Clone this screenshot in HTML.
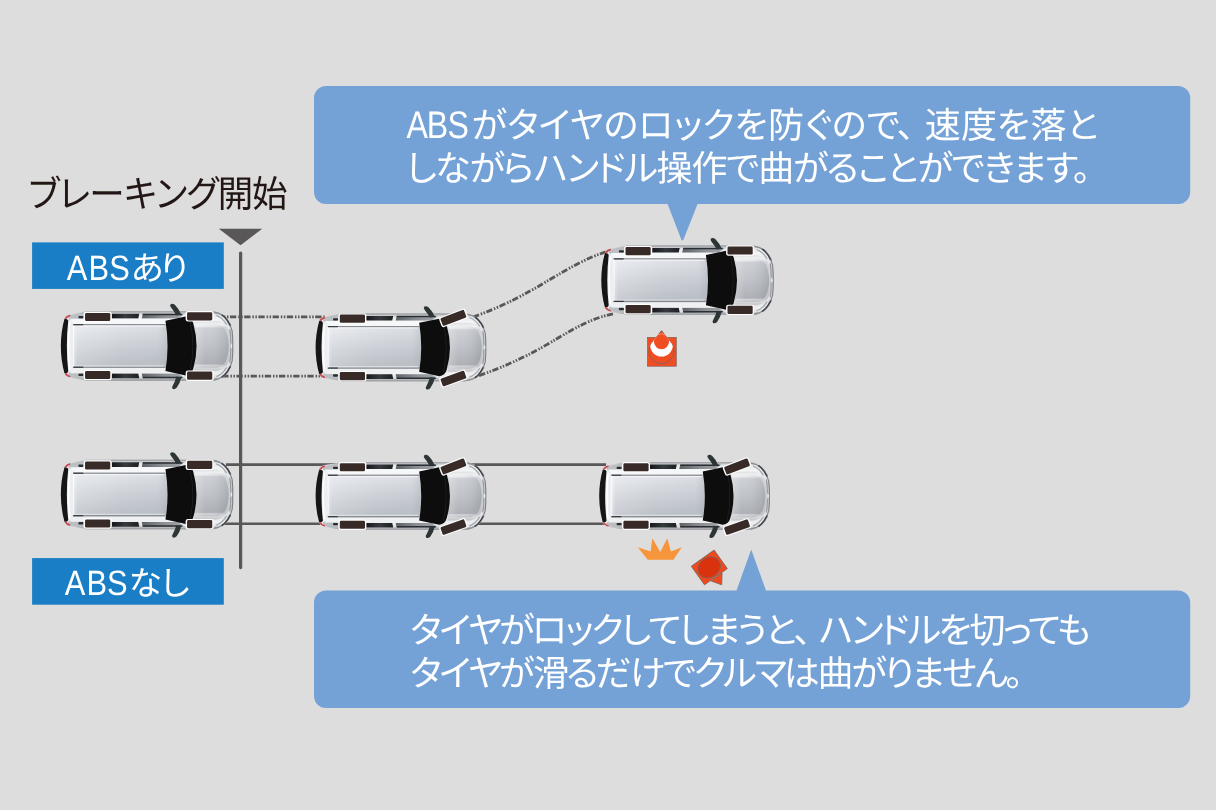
<!DOCTYPE html>
<html lang="ja">
<head>
<meta charset="utf-8">
<title>ABS</title>
<style>
html,body{margin:0;padding:0;background:#dddddd;}
body{width:1216px;height:810px;overflow:hidden;position:relative;font-family:"Liberation Sans","Noto Sans CJK JP",sans-serif;}
svg{position:absolute;left:0;top:0;display:block}
svg text{font-family:"Liberation Sans","Noto Sans CJK JP",sans-serif;font-weight:400;font-kerning:none;text-rendering:geometricPrecision;}
</style>
</head>
<body>
<svg width="1216" height="810" viewBox="0 0 1216 810">
<defs>
<linearGradient id="gBody" x1="0" y1="0" x2="0" y2="1">
<stop offset="0" stop-color="#9b9ea2"/><stop offset="0.025" stop-color="#c3c5c8"/><stop offset="0.05" stop-color="#e6e7e9"/><stop offset="0.12" stop-color="#f3f4f5"/><stop offset="0.2" stop-color="#e4e6e9"/><stop offset="0.5" stop-color="#d2d5da"/><stop offset="0.8" stop-color="#dfe1e4"/><stop offset="0.9" stop-color="#eeeff0"/><stop offset="0.95" stop-color="#dcdee0"/><stop offset="0.975" stop-color="#b4b6b9"/><stop offset="1" stop-color="#84878b"/>
</linearGradient>
<linearGradient id="gRoof" x1="0" y1="0" x2="0.3" y2="1">
<stop offset="0" stop-color="#e9ecf0"/><stop offset="0.2" stop-color="#dfe2e7"/><stop offset="0.6" stop-color="#cdd1d7"/><stop offset="1" stop-color="#bcc0c7"/>
</linearGradient>
<linearGradient id="gRoofH" x1="0" y1="0" x2="1" y2="0">
<stop offset="0" stop-color="#fff" stop-opacity="0.5"/><stop offset="0.05" stop-color="#fff" stop-opacity="0.12"/><stop offset="0.5" stop-color="#fff" stop-opacity="0"/><stop offset="0.9" stop-color="#9a9ea6" stop-opacity="0"/><stop offset="1" stop-color="#9a9ea6" stop-opacity="0.25"/>
</linearGradient>
<linearGradient id="gHood" x1="0" y1="0" x2="0" y2="1">
<stop offset="0" stop-color="#eeeff1"/><stop offset="0.05" stop-color="#e6e8ea"/><stop offset="0.09" stop-color="#cbced3"/><stop offset="0.5" stop-color="#bcbfc5"/><stop offset="0.91" stop-color="#a9acb2"/><stop offset="0.94" stop-color="#cfd1d5"/><stop offset="1" stop-color="#bdbfc3"/>
</linearGradient>
<linearGradient id="gHoodL" x1="0" y1="0" x2="1" y2="0">
<stop offset="0" stop-color="#fff" stop-opacity="0.28"/><stop offset="0.3" stop-color="#fff" stop-opacity="0.05"/><stop offset="1" stop-color="#6d7076" stop-opacity="0.25"/>
</linearGradient>
<linearGradient id="gHoodX" x1="0" y1="0" x2="0" y2="1">
<stop offset="0" stop-color="#dfe1e3"/><stop offset="0.07" stop-color="#f0f1f2"/><stop offset="0.13" stop-color="#d2d4d7"/><stop offset="0.87" stop-color="#c0c2c6"/><stop offset="0.93" stop-color="#d8dadc"/><stop offset="1" stop-color="#c3c5c8"/>
</linearGradient>
<linearGradient id="gWin" x1="0" y1="0" x2="1" y2="0">
<stop offset="0" stop-color="#15181a"/><stop offset="0.5" stop-color="#353a3d"/><stop offset="1" stop-color="#1d2123"/>
</linearGradient>
<linearGradient id="gWin2" x1="0" y1="0" x2="1" y2="0">
<stop offset="0" stop-color="#5d6266"/><stop offset="0.5" stop-color="#8a8e93"/><stop offset="1" stop-color="#a4a7ab"/>
</linearGradient>
<filter id="soft" x="-10%" y="-20%" width="120%" height="140%"><feGaussianBlur stdDeviation="0.45"/></filter>
<filter id="softT" x="0" y="0" width="1216" height="810" filterUnits="userSpaceOnUse"><feGaussianBlur stdDeviation="0.35"/></filter>
<filter id="soft2" x="-10%" y="-10%" width="120%" height="120%"><feGaussianBlur stdDeviation="0.3"/></filter>

<g id="car">
  <!-- body -->
  <path d="M-0.3,0 C-0.3,-12 0.8,-21 3,-27.3 L4.4,-29.6 Q6.6,-31.6 10,-32 L23,-34 L24.5,-34.7 L151,-34.8 C157,-34.4 161.5,-31.8 164.2,-29.2 C167.2,-26 170,-20.6 171.4,-15.3 L171.8,-8 L171.8,8 L171.4,15.3 C170,20.6 167.2,26 164.2,29.2 C161.5,31.8 157,34.4 151,34.8 L24.5,34.7 L23,34 L10,32 Q6.6,31.6 4.4,29.6 L3,27.3 C0.8,21 -0.3,12 -0.3,0Z" fill="url(#gBody)"/>
  <!-- rear corner gray -->
  <path d="M6,-30.6 L23,-33.4 L23,-25.4 L8,-25.4Z" fill="#b4b7bb" opacity="0.85"/>
  <path d="M6,30.6 L23,33.4 L23,25.4 L8,25.4Z" fill="#b4b7bb" opacity="0.85"/>
  <!-- sill line -->
  <path d="M50,-34.2 H152 M50,34.2 H152" stroke="#a3a6aa" stroke-width="1" fill="none"/>
  <!-- side window strips -->
  <path d="M50.5,-32.3 L78,-32.3 L77,-27.6 L50.5,-27.6Z M50.5,32.3 L78,32.3 L77,27.6 L50.5,27.6Z" fill="url(#gWin)"/>
  <path d="M81.5,-32.3 L123,-32.3 L117,-27.6 L80.5,-27.6Z M81.5,32.3 L123,32.3 L117,27.6 L80.5,27.6Z" fill="url(#gWin2)"/>
  <path d="M81.5,-31.6 L121,-31.6 M81.5,31.6 L121,31.6" stroke="#2a2e31" stroke-width="1.5" fill="none"/>
  <!-- small dark patches behind rear wheels -->
  <rect x="17.2" y="-30" width="5" height="2.4" rx="0.8" fill="#2a2d30"/>
  <rect x="17.2" y="27.6" width="5" height="2.4" rx="0.8" fill="#2a2d30"/>
  <!-- mirrors -->
  <path d="M109.2,-41.6 Q111,-43.2 113.6,-41.2 Q117.8,-37 120,-31.4 L115,-30.6 Q113,-34.6 110,-38.2 Q108.2,-40.2 109.2,-41.6Z" fill="#2d3436"/>
  <path d="M111.2,42.6 Q113,44 115.4,41.8 Q118.8,37.2 120,31.4 L115,30.6 Q114.2,35 111.8,39 Q110.2,41.2 111.2,42.6Z" fill="#2d3436"/>
  <!-- white shoulder strips -->
  <path d="M9,-27.2 L119,-27.2 L105,-22 L11,-22Z" fill="#f6f7f8"/>
  <path d="M9,27.2 L119,27.2 L105,22 L11,22Z" fill="#eff0f2"/>
  <!-- rear band -->
  <path d="M6.4,-26.4 Q9.6,-27.2 11.8,-24 L11.8,24 Q9.6,27.2 6.4,26.4 Q4.4,13 4.4,0 Q4.4,-13 6.4,-26.4Z" fill="#eceef1"/>
  <path d="M8.6,-24 Q7.4,-12 7.4,0 Q7.4,12 8.6,24" stroke="#ffffff" stroke-width="1.4" fill="none"/>
  <!-- roof -->
  <path d="M11.6,-22 L104.4,-22 Q106.3,-11 106.3,0 Q106.3,11 104.4,22 L11.6,22Z" fill="url(#gRoof)"/>
  <path d="M11.6,-22 L104.4,-22 Q106.3,-11 106.3,0 Q106.3,11 104.4,22 L11.6,22Z" fill="url(#gRoofH)"/>
  <path d="M12,-21.3 L104,-21.3" stroke="#777b80" stroke-width="1" fill="none"/><path d="M13,-19.9 L103,-19.9" stroke="#f4f5f7" stroke-width="1.2" fill="none" opacity="0.8"/>
  <path d="M12,-21.3 L22,-21.3" stroke="#34383b" stroke-width="1.2" fill="none"/>
  <path d="M12,21.2 L104,21.2" stroke="#7d8186" stroke-width="1" fill="none"/><path d="M13,19.8 L103,19.8" stroke="#e4e6e9" stroke-width="1.2" fill="none" opacity="0.8"/>
  <path d="M12,21.2 L22,21.2" stroke="#34383b" stroke-width="1.2" fill="none"/>
  <path d="M12.2,-20.5 L12.2,20.5" stroke="#fff" stroke-width="1.2" fill="none" opacity="0.75"/>
  <!-- rear window crescent -->
  <path d="M3.2,-27.2 Q-0.4,-14 -0.4,0 Q-0.4,14 3.2,27.2 Q6.2,27.6 7,25.4 Q5.6,13 5.6,0 Q5.6,-13 7,-25.4 Q6.2,-27.6 3.2,-27.2Z" fill="#121415"/>
  <!-- tail lights -->
  <path d="M3.2,-27.8 Q4.6,-30.4 8.8,-31.6 L9.2,-30 Q6.2,-29.2 5,-26.8Z" fill="#c9494f"/>
  <path d="M3.2,27.8 Q4.6,30.4 8.8,31.6 L9.2,30 Q6.2,29.2 5,26.8Z" fill="#c9494f"/>
  <!-- fender highlight -->
  <path d="M133,-25 L156,-25 Q164,-23 167.6,-15 L168.6,0 L167.6,15 Q164,23 156,25 L133,25Z" fill="url(#gHoodX)"/>
  <!-- hood -->
  <path d="M134,-21.8 L155.5,-21.8 Q161,-20.8 164.4,-15.4 Q167.2,-9 167.4,0 Q167.2,9 164.4,15.4 Q161,20.8 155.5,21.8 L134,21.8Z" fill="url(#gHood)"/>
  <path d="M134,-21.8 L155.5,-21.8 Q161,-20.8 164.4,-15.4 Q167.2,-9 167.4,0 Q167.2,9 164.4,15.4 Q161,20.8 155.5,21.8 L134,21.8Z" fill="url(#gHoodL)"/>
  <!-- front trim -->
  <path d="M167.4,-17 Q168.8,-9 168.8,0 Q168.8,9 167.4,17 L170.8,14 L171.6,7 L171.6,-7 L170.8,-14Z" fill="#c9cbce"/>
  <path d="M153,-33.8 C157,-33 159.4,-32 161,-30.8" stroke="#8a8d91" stroke-width="1.4" fill="none"/><path d="M161,-30.8 C162,-30 162.8,-29.4 163.6,-28.6 C165.8,-26.4 167.6,-23.6 169,-20.6" stroke="#45494d" stroke-width="1.8" stroke-linecap="round" fill="none"/>
  <path d="M153,33.8 C157,33 159.4,32 161,30.8" stroke="#8a8d91" stroke-width="1.4" fill="none"/><path d="M161,30.8 C162,30 162.8,29.4 163.6,28.6 C165.8,26.4 167.6,23.6 169,20.6" stroke="#45494d" stroke-width="1.8" stroke-linecap="round" fill="none"/>
  <path d="M169,-20.6 L170.9,-15 L171.5,-7 L171.5,7 L170.9,15 L169,20.6" stroke="#7b7e82" stroke-width="1.1" fill="none"/>
  <path d="M155,-30.6 C159.4,-29 162.6,-26.2 165.4,-21.4" stroke="#a3a6aa" stroke-width="1.2" fill="none"/>
  <path d="M155,30.6 C159.4,29 162.6,26.2 165.4,21.4" stroke="#a3a6aa" stroke-width="1.2" fill="none"/>
  <path d="M168.6,-17 Q169.6,-9 169.6,0 Q169.6,9 168.6,17" stroke="#8c8f93" stroke-width="0.9" fill="none"/>
  <path d="M169.4,-3 L171.2,0 L169.4,3Z" fill="#f4f4f4"/>
  <!-- windshield -->
  <path d="M104.2,-25.2 L124.5,-29.4 Q130.5,-28.6 132,-22.8 Q135.3,-11 135.3,0 Q135.3,11 132,22.8 Q130.5,28.6 124.5,29.6 L104.2,25 Q106.3,12 106.3,0 Q106.3,-12 104.2,-25.2Z" fill="#0a0b09"/>
  <path d="M128.6,-26 Q131.6,-13 131.6,0 Q131.6,13 128.6,26" stroke="#222527" stroke-width="1" fill="none" opacity="0.8"/>
</g>
<g id="wh">
  <rect x="-14" y="-5.2" width="28" height="10.4" rx="2.2" fill="#fdfdfd"/>
  <rect x="-12.6" y="-4.1" width="25.2" height="8.2" rx="1.3" fill="#382a28"/>
</g>
</defs>
<rect width="1216" height="810" fill="#dddddd"/>
<path d="M326,86 H1178.2 a12,12 0 0 1 12,12 V192 a12,12 0 0 1 -12,12 H697.6 L683.2,240.2 H681.6 L667.6,204 H326 a12,12 0 0 1 -12,-12 V98 a12,12 0 0 1 12,-12Z" fill="#74a2d7"/>
<path d="M326,590.5 H736.5 L751.2,549.5 L766,590.5 H1178.2 a12,12 0 0 1 12,12 V696 a12,12 0 0 1 -12,12 H326 a12,12 0 0 1 -12,-12 V602.5 a12,12 0 0 1 12,-12Z" fill="#74a2d7"/>
<rect x="32.1" y="242.4" width="191.7" height="46.5" fill="#197ec5"/>
<rect x="32.1" y="558.1" width="191.7" height="46.6" fill="#197ec5"/>
<path d="M218.8,228.8 H262.2 L240.5,245.2Z" fill="#595757"/>
<rect x="239" y="251.6" width="3.2" height="317.6" rx="1.6" fill="#595757"/>
<path d="M215.8,316.8 H325" stroke="#595757" stroke-width="2.8" fill="none" stroke-dasharray="6.3 1.9 1.5 1.5 1.5 1.5"/>
<path d="M222.2,376.1 H322" stroke="#595757" stroke-width="2.8" fill="none" stroke-dasharray="6.3 1.9 1.5 1.5 1.5 1.5"/>
<path d="M473,317 C537.3,294.3 563.5,265 607,251.6" stroke="#595757" stroke-width="2.8" fill="none" stroke-dasharray="6.3 1.9 1.5 1.5 1.5 1.5"/>
<path d="M479,375.6 C552.8,350 567.8,323.8 613,313.8" stroke="#595757" stroke-width="2.8" fill="none" stroke-dasharray="6.3 1.9 1.5 1.5 1.5 1.5"/>
<path d="M226,464.6 H606 M224,523.8 H606" stroke="#595757" stroke-width="2.6" fill="none"/>
<g transform="translate(61.25,346)" filter="url(#soft)">
<use href="#car"/>
<use href="#wh" transform="translate(36.4,-29.0)"/>
<use href="#wh" transform="translate(36.4,29.0)"/>
<use href="#wh" transform="translate(138.4,-29.7) rotate(0)"/>
<use href="#wh" transform="translate(138.4,29.7) rotate(0)"/>
</g>

<g transform="translate(316,347.4)" filter="url(#soft)">
<use href="#car" transform="scale(0.99,0.975)"/>
<use href="#wh" transform="translate(36.4,-28.75)"/>
<use href="#wh" transform="translate(36.4,28.75)"/>
<use href="#wh" transform="translate(137.4,-29.55) rotate(-21)"/>
<use href="#wh" transform="translate(137.45,31.1) rotate(-19.5)"/>
</g>

<g transform="translate(601.7,280.2)" filter="url(#soft)">
<use href="#car"/>
<use href="#wh" transform="translate(36.4,-29.0)"/>
<use href="#wh" transform="translate(36.4,29.0)"/>
<use href="#wh" transform="translate(138.4,-29.7) rotate(0)"/>
<use href="#wh" transform="translate(138.4,29.7) rotate(0)"/>
</g>

<g transform="translate(61.25,494.5)" filter="url(#soft)">
<use href="#car"/>
<use href="#wh" transform="translate(36.4,-29.0)"/>
<use href="#wh" transform="translate(36.4,29.0)"/>
<use href="#wh" transform="translate(138.4,-29.7) rotate(0)"/>
<use href="#wh" transform="translate(138.4,29.7) rotate(0)"/>
</g>

<g transform="translate(316,496)" filter="url(#soft)">
<use href="#car" transform="scale(0.99,0.975)"/>
<use href="#wh" transform="translate(36.4,-28.75)"/>
<use href="#wh" transform="translate(36.4,28.75)"/>
<use href="#wh" transform="translate(137.4,-29.55) rotate(-21)"/>
<use href="#wh" transform="translate(137.45,31.1) rotate(-19.5)"/>
</g>

<g transform="translate(599.6,496)" filter="url(#soft)">
<use href="#car" transform="scale(0.99,0.975)"/>
<use href="#wh" transform="translate(36.4,-28.75)"/>
<use href="#wh" transform="translate(36.4,28.75)"/>
<use href="#wh" transform="translate(137.4,-29.55) rotate(-21)"/>
<use href="#wh" transform="translate(137.45,31.1) rotate(-19.5)"/>
</g>

<g filter="url(#soft2)">
<rect x="647.5" y="337.4" width="28.8" height="28.8" fill="#f04e23" stroke="#80625a" stroke-width="0.7"/>
<path id="tear" d="M661.5,330.6 L671.6,343.6 A12.6,12.6 0 1 1 651.4,343.6Z" fill="#f04e23" stroke="#80625a" stroke-width="0.9"/>
<clipPath id="tc"><path d="M661.5,330.6 L671.6,343.6 A12.6,12.6 0 1 1 651.4,343.6Z"/></clipPath>
<g clip-path="url(#tc)"><circle cx="661.5" cy="345.1" r="11.4" fill="#fff"/><circle cx="661.5" cy="341.6" r="7.6" fill="#f04e23"/></g>
</g>
<path d="M637.8,547.2 L650.6,551.4 L652.4,538.2 L660.3,552 L667.3,538.2 L670.9,551.4 L681.8,547.2 L673.5,559.7 L647.7,559.7Z" fill="#f7953b" filter="url(#soft2)"/>
<g filter="url(#soft2)">
<path d="M711.1,580.9 L721.7,584.8 L722,572.9Z" fill="#f2491f" stroke="#80625a" stroke-width="0.9"/>
<path d="M691.3,566.3 L714.1,550.1 L727.3,568.6 L704.5,584.8Z" fill="#f2491f" stroke="#80625a" stroke-width="0.9"/>
<ellipse cx="709.2" cy="567.4" rx="11.9" ry="10" transform="rotate(-35 709.2 567.4)" fill="#d9310f" stroke="#80625a" stroke-width="0.9"/>
</g>
<g filter="url(#softT)"><text y="207.4" font-size="36.9" fill="#231815" transform="scale(0.962,1)"><tspan x="27.23 58.94 92.83 127.65 159.77 193.14 226.3 261.85">ブレーキング開始</tspan></text>
<text y="279.8" font-size="33.5" fill="#fff"><tspan x="66.8" font-size="35.25" textLength="20.57" lengthAdjust="spacingAndGlyphs">A</tspan><tspan x="88.6" font-size="35.25" textLength="20.57" lengthAdjust="spacingAndGlyphs">B</tspan><tspan x="109.3" font-size="35.25" textLength="20.57" lengthAdjust="spacingAndGlyphs">S</tspan><tspan x="130.6 158.1">あり</tspan></text>
<text y="137.9" font-size="36" fill="#fff"><tspan x="406.4" font-size="38.5" textLength="21.39" lengthAdjust="spacingAndGlyphs">A</tspan><tspan x="426.8" font-size="38.5" textLength="21.39" lengthAdjust="spacingAndGlyphs">B</tspan><tspan x="447.6" font-size="38.5" textLength="21.39" lengthAdjust="spacingAndGlyphs">S</tspan><tspan x="471.6 505.5 537.3 569.2 603.0 637.8 670.1 701.3 734.0 767.9 800.7 831.3 865.3 896.6 924.7 960.9 996.2 1030.4 1065.5">がタイヤのロックを防ぐので、速度を落と</tspan></text>
<text y="181.3" font-size="36" fill="#fff"><tspan x="403.4 434.9 469.4 499.9 532.3 564.9 592.7 622.6 656.6 691.4 724.7 758.2 792.9 824.8 855.3 885.6 917.6 950.3 981.7 1012.2 1043.8 1072.9">しながらハンドル操作で曲がることができます。</tspan></text>
<text y="595.3" font-size="33.5" fill="#fff"><tspan x="64.7" font-size="35.25" textLength="20.57" lengthAdjust="spacingAndGlyphs">A</tspan><tspan x="86.5" font-size="35.25" textLength="20.57" lengthAdjust="spacingAndGlyphs">B</tspan><tspan x="107.1" font-size="35.25" textLength="20.57" lengthAdjust="spacingAndGlyphs">S</tspan><tspan x="128.8 158.6">なし</tspan></text>
<text y="642.9" font-size="36" fill="#fff"><tspan x="408.6 437.9 467.7 499.1 531.6 561.2 590.3 618.0 647.0 676.1 706.1 734.4 764.1 793.2 817.6 849.5 876.4 905.7 938.0 969.4 999.0 1026.6 1056.4">タイヤがロックしてしまうと、ハンドルを切っても</tspan></text>
<text y="686.3" font-size="36" fill="#fff"><tspan x="408.6 437.9 467.7 499.1 533.0 564.6 595.4 630.0 661.6 692.5 721.2 752.7 783.8 817.5 851.3 882.1 910.6 942.0 973.5 1005.6">タイヤが滑るだけでクルマは曲がりません。</tspan></text></g>
</svg>
</body>
</html>
